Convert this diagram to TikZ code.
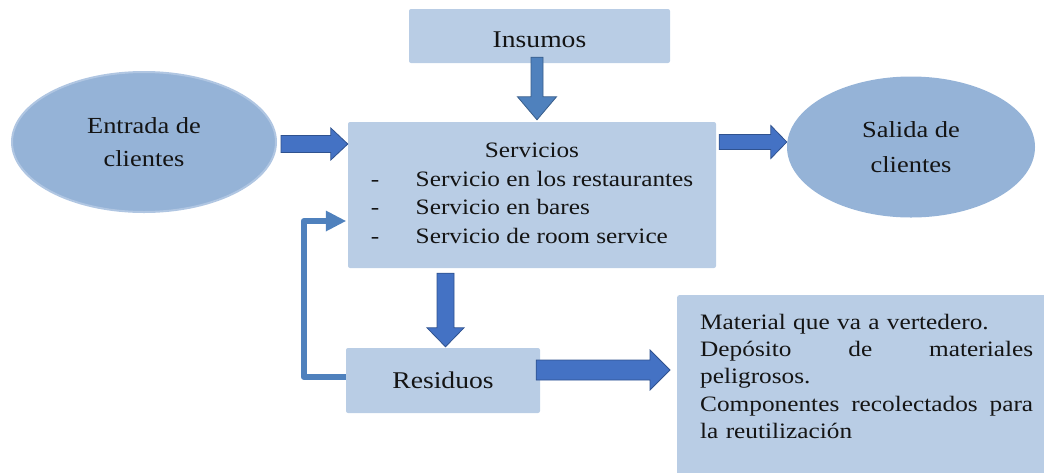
\documentclass[tikz,border=0pt]{standalone}
\usepackage{fontspec}
\setmainfont{Liberation Serif}[FakeStretch=1.15]
\usetikzlibrary{calc,shapes.geometric,arrows.meta}
\definecolor{boxc}{RGB}{185,205,229}
\definecolor{ellc}{RGB}{149,179,215}
\definecolor{ellb}{RGB}{176,198,226}
\definecolor{arrf}{RGB}{68,114,196}
\definecolor{arrl}{RGB}{47,82,143}
\definecolor{arrfb}{RGB}{79,129,189}
\definecolor{arrlb}{RGB}{56,93,138}
\definecolor{txt}{RGB}{20,20,20}
\newcommand\barrowH[6][barrow]{%
  \filldraw[#1] ($(#2)+(0,-#4)$) -- ($(#3)+(-#6,-#4)$) -- ($(#3)+(-#6,-#5)$) -- (#3)
   -- ($(#3)+(-#6,#5)$) -- ($(#3)+(-#6,#4)$) -- ($(#2)+(0,#4)$) -- cycle;}
\newcommand\barrowV[6][barrow]{%
  \filldraw[#1] ($(#2)+(-#4,0)$) -- ($(#3)+(-#4,-#6)$) -- ($(#3)+(-#5,-#6)$) -- (#3)
   -- ($(#3)+(#5,-#6)$) -- ($(#3)+(#4,-#6)$) -- ($(#2)+(#4,0)$) -- cycle;}
\begin{document}
\begin{tikzpicture}[x=1pt,y=-1pt,
  box/.style={rectangle, rounded corners=2pt, fill=boxc, draw=none, text=txt},
  ell/.style={ellipse, fill=ellc, inner sep=0pt, align=center, text=txt,
    font=\fontsize{23}{33}\selectfont},
  barrow/.style={fill=arrf, draw=arrl, line width=0.8pt, line join=miter},
  barrowb/.style={fill=arrfb, draw=arrlb, line width=0.8pt, line join=miter},
  fb/.style={draw=arrfb, line width=6pt, line join=round,
    -{Triangle[length=20pt,width=21pt,line width=0pt]}}]
\useasboundingbox (0,0) rectangle (1044,472);

% nodes
\node[box, minimum width=261pt, minimum height=54pt, text height=22pt, text depth=0pt,
  font=\fontsize{24}{28}\selectfont] (ins) at (539.5,36) {Insumos};
\node[ell, draw=ellb, line width=2pt, minimum width=264pt, minimum height=140pt]
  (ent) at (144,142) {Entrada de\\clientes};
\node[ell, minimum width=248pt, minimum height=141pt,
  font=\fontsize{23}{35}\selectfont] (sal) at (911,147) {Salida de\\clientes};
\node[box, minimum width=368pt, minimum height=146pt, inner sep=0pt,
  font=\fontsize{22}{28.5}\selectfont] (serv) at (532,195)
  {\begin{tabular}{@{}p{45pt}@{}l@{}}
   \multicolumn{2}{c}{Servicios}\\
   - & Servicio en los restaurantes\\
   - & Servicio en bares\\
   - & Servicio de room service
   \end{tabular}};
\node[box, minimum width=194pt, minimum height=65pt,
  font=\fontsize{24}{28}\selectfont] (res) at (443,380.5) {Residuos};
\begin{scope}
\clip (0,0) rectangle (1044,472);
\node[box, anchor=north west, inner xsep=23pt, inner ysep=0pt, text width=333pt,
  align=left, font=\fontsize{22}{27.3}\selectfont] (mat) at (677,295)
  {\rule{0pt}{34pt}Material que va a vertedero.\\
   \makebox[333pt]{Depósito\hfill de\hfill materiales}\\
   peligrosos.\\
   \makebox[333pt]{Componentes\hfill recolectados\hfill para}\\
   la reutilización\rule[-60pt]{0pt}{0pt}};
\end{scope}

% arrow end points
\coordinate (a1s) at ($(ent.east)+(4,2)$);
\coordinate (a1t) at (a1s -| serv.west);
\coordinate (a2s) at ($(serv.east)+(3,-53)$);
\coordinate (a2t) at (a2s -| sal.west);
\coordinate (a3s) at ($(ins.south)+(-2.5,-6)$);
\coordinate (a3t) at ($(a3s |- serv.north)+(0,-2)$);
\coordinate (a4s) at ($(serv.south)+(-86.5,5)$);
\coordinate (a4t) at ($(a4s |- res.north)+(0,-1)$);
\coordinate (a5s) at ($(res.east)+(-4,-10.5)$);
\coordinate (a5t) at ($(a5s -| mat.west)+(-7,0)$);

% block arrows
\barrowH{a1s}{a1t}{8.5}{16}{17}
\barrowH{a2s}{a2t}{7.5}{16.5}{16}
\barrowV[barrowb]{a3s}{a3t}{6}{19.5}{23}
\barrowV{a4s}{a4t}{8.5}{18.5}{19}
\barrowH{a5s}{a5t}{10}{20}{20}

% feedback
\draw[fb] ($(res.west)+(0,-3.5)$) -- ++(-42,0) |- ($(serv.west)+(-2,26)$);
\end{tikzpicture}
\end{document}
